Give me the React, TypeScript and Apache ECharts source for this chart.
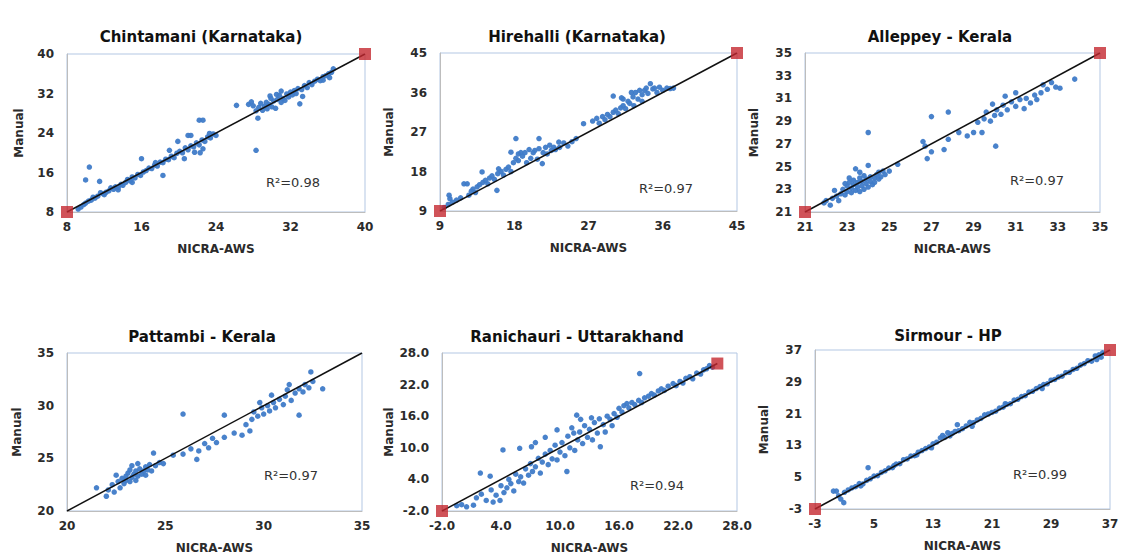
import React, { useEffect, useRef } from "react";
import * as echarts from "echarts";

// ---------- DATA ----------
const panelTitles = [
  "Chintamani (Karnataka)",
  "Hirehalli (Karnataka)",
  "Alleppey - Kerala",
  "Pattambi - Kerala",
  "Ranichauri - Uttarakhand",
  "Sirmour - HP",
];

const axisRanges: [number, number][] = [
  [8, 40],
  [9, 45],
  [21, 35],
  [20, 35],
  [-2, 28],
  [-3, 37],
];

const tickValues: number[][] = [
  [8, 16, 24, 32, 40],
  [9, 18, 27, 36, 45],
  [21, 23, 25, 27, 29, 31, 33, 35],
  [20, 25, 30, 35],
  [-2, 4, 10, 16, 22, 28],
  [-3, 5, 13, 21, 29, 37],
];

const tickDecimals = [0, 0, 0, 0, 1, 0];

const r2Labels = ["R²=0.98", "R²=0.97", "R²=0.97", "R²=0.97", "R²=0.94", "R²=0.99"];

const endMarkers: number[][][] = [
  [[8, 8], [40, 40]],
  [[9, 9], [45, 45]],
  [[21, 21], [35, 35]],
  [],
  [[-2, -2], [26, 26]],
  [[-3, -3], [37, 37]],
];

const oneToOneLines: number[][][] = [
  [[8, 8], [40, 40]],
  [[9, 9], [45, 45]],
  [[21, 21], [35, 35]],
  [[20, 20], [35, 35]],
  [[-2, -2], [26, 26]],
  [[-3, -3], [37, 37]],
];

const chintamani = [
  [9.2, 8.6], [9.5, 9.0], [9.8, 9.5], [10.0, 9.8], [10.3, 10.2], [10.6, 10.4], [10.8, 11.0], [11.0, 10.8],
  [11.3, 11.2], [11.6, 11.9], [11.9, 11.7], [12.2, 12.0], [12.5, 12.3], [12.7, 12.9], [13.0, 12.6], [13.2, 13.1],
  [13.5, 13.0], [13.8, 13.6], [14.0, 13.4], [14.3, 14.0], [14.5, 14.6], [14.8, 14.3], [15.0, 15.1], [15.3, 14.9],
  [15.6, 15.6], [15.9, 15.4], [16.2, 16.1], [16.5, 16.4], [16.8, 16.9], [17.1, 16.8], [17.4, 17.5], [17.7, 17.3],
  [18.0, 18.1], [18.3, 18.0], [18.6, 18.7], [18.9, 18.6], [19.2, 19.3], [19.5, 19.0], [19.8, 19.9], [20.1, 20.3],
  [20.4, 20.0], [20.7, 21.0], [21.0, 20.6], [21.3, 21.4], [21.6, 21.2], [21.9, 22.0], [22.2, 21.6], [22.5, 22.6],
  [22.8, 22.3], [23.1, 23.2], [23.4, 23.0], [23.7, 23.8], [24.0, 23.5],
  [10.0, 14.5], [10.4, 17.1], [11.5, 14.2], [16.0, 18.8], [18.3, 15.4], [22.2, 26.6], [22.6, 26.6], [19.9, 22.3],
  [21.0, 23.5], [21.3, 23.5], [20.6, 18.8], [21.7, 20.1], [22.6, 20.8], [23.3, 23.9], [22.3, 20.0], [19.0, 20.5],
  [17.5, 18.0], [15.0, 14.0], [13.5, 12.5], [12.0, 11.5],
  [26.2, 29.6], [27.5, 29.8], [27.8, 30.3], [28.0, 29.5], [28.3, 28.5], [28.5, 27.0], [28.3, 20.5], [28.6, 29.2],
  [28.8, 30.0], [29.0, 28.6], [29.2, 29.4], [29.4, 30.2], [29.5, 28.9], [29.7, 29.8], [29.9, 31.0], [30.0, 29.3],
  [30.2, 30.5], [30.4, 29.0], [30.6, 30.8], [30.8, 31.6], [31.0, 30.2], [31.2, 31.0], [31.4, 30.6], [31.6, 31.9],
  [31.8, 31.3], [32.0, 32.3], [32.2, 31.7], [32.4, 32.6], [32.6, 32.0], [32.8, 33.0], [33.0, 29.9], [33.3, 31.4],
  [33.2, 32.8], [33.5, 33.6], [33.8, 33.2], [34.0, 34.2], [34.3, 33.8], [34.6, 34.5], [34.9, 34.9], [35.2, 34.6],
  [35.5, 34.7], [35.5, 35.4], [35.8, 35.6], [36.1, 36.0], [36.4, 36.3], [36.6, 37.0], [36.2, 35.2], [29.8, 31.5],
  [30.5, 31.8], [31.0, 32.5],
];

const hirehalli = [
  [9.5, 9.8], [10.0, 10.5], [10.2, 11.8], [10.5, 11.0], [10.1, 12.6], [11.0, 11.5], [11.5, 12.0], [11.9, 15.2],
  [12.3, 15.2], [12.5, 12.6], [12.8, 13.5], [13.0, 14.0], [13.3, 13.2], [13.5, 14.5], [13.8, 15.0], [14.1, 17.9],
  [14.2, 15.5], [14.5, 16.0], [14.8, 15.2], [15.0, 16.5], [15.3, 17.0], [15.6, 16.2], [15.9, 13.7], [16.0, 17.5],
  [16.1, 18.6], [16.4, 18.0], [16.7, 17.2], [17.0, 18.5], [17.3, 19.0], [17.6, 22.4], [17.6, 18.0], [17.9, 20.0],
  [18.2, 25.5], [18.2, 21.0], [18.5, 22.0], [18.5, 20.5], [18.8, 22.3], [19.0, 21.5], [19.3, 22.3], [19.5, 20.0],
  [19.8, 23.0], [20.0, 21.0], [20.3, 22.3], [20.5, 22.8], [20.8, 20.8], [21.0, 25.5], [21.0, 23.2], [21.4, 19.8],
  [21.5, 22.3], [21.8, 23.5], [22.0, 22.0], [22.3, 24.0], [22.5, 22.8], [22.8, 23.5], [23.0, 23.0], [23.4, 24.7],
  [23.5, 23.5], [24.0, 24.5], [24.5, 23.8], [25.0, 24.8], [25.5, 25.5], [26.4, 28.9], [27.5, 29.5], [28.0, 30.1],
  [28.3, 29.0], [28.7, 30.5], [29.0, 29.8], [29.3, 31.0], [29.6, 30.5], [30.0, 35.2], [30.0, 31.5], [30.3, 32.0],
  [30.6, 31.2], [30.9, 32.5], [31.2, 33.0], [31.2, 34.5], [31.5, 32.3], [31.8, 34.0], [32.0, 33.5], [32.2, 36.0],
  [32.4, 35.0], [32.7, 36.0], [33.0, 34.5], [33.2, 36.5], [33.5, 35.5], [33.8, 36.5], [34.0, 37.0], [34.2, 35.8],
  [34.5, 38.0], [34.8, 36.8], [35.0, 37.0], [35.3, 36.0], [35.6, 37.2], [36.0, 36.5], [36.5, 37.0], [36.9, 36.9],
  [37.3, 37.0], [31.0, 34.8], [32.5, 33.0], [33.5, 34.0],
];

const alleppey = [
  [22.0, 22.0], [22.2, 21.6], [22.3, 22.2], [22.5, 22.4], [22.6, 22.0], [22.7, 22.6], [22.8, 23.0], [22.9, 22.5],
  [23.0, 22.8], [23.0, 23.3], [23.1, 23.6], [23.2, 22.7], [23.2, 23.1], [23.3, 23.4], [23.3, 23.8], [23.4, 22.9],
  [23.4, 24.8], [23.5, 23.2], [23.5, 23.6], [23.6, 24.0], [23.6, 22.8], [23.7, 23.3], [23.7, 23.7], [23.8, 23.0],
  [23.8, 24.2], [23.9, 23.5], [23.9, 23.9], [24.0, 23.2], [24.0, 25.1], [24.0, 28.0], [24.1, 23.7], [24.1, 24.1],
  [24.2, 23.4], [24.3, 24.0], [24.3, 23.6], [24.4, 24.3], [24.5, 23.9], [24.5, 24.5], [24.6, 24.1], [24.7, 24.6],
  [24.8, 24.3], [22.4, 22.9], [22.9, 23.5], [23.1, 24.0], [23.6, 24.5], [25.4, 25.2], [25.0, 24.6], [21.9, 21.8],
  [26.6, 27.2], [26.7, 26.8], [27.0, 26.3], [26.8, 25.7], [27.0, 29.4], [27.6, 26.5], [27.8, 27.4], [27.8, 29.8],
  [28.3, 28.0], [28.7, 27.7], [29.0, 28.0], [29.2, 28.9], [29.4, 28.0], [29.5, 29.2], [29.6, 29.8], [29.8, 29.0],
  [30.0, 29.5], [30.05, 26.8], [30.1, 30.0], [30.3, 29.6], [30.4, 30.4], [30.6, 30.0], [30.8, 30.7], [31.0, 30.3],
  [31.2, 30.9], [31.4, 30.1], [31.5, 31.0], [31.7, 30.6], [31.9, 31.3], [32.0, 30.9], [32.2, 31.5], [32.3, 32.2],
  [32.5, 31.8], [32.7, 32.4], [32.9, 32.0], [33.1, 31.9], [33.8, 32.7], [30.5, 31.2], [31.0, 31.5], [29.9, 30.5],
];

const pattambi = [
  [21.5, 22.2], [22.0, 21.4], [22.1, 22.0], [22.3, 22.5], [22.4, 21.8], [22.6, 22.8], [22.7, 22.2], [22.8, 23.1],
  [22.9, 22.6], [23.0, 23.3], [23.0, 22.9], [23.1, 23.6], [23.2, 22.8], [23.3, 23.2], [23.3, 24.3], [23.4, 23.5],
  [23.5, 22.9], [23.5, 23.8], [23.6, 23.3], [23.7, 24.0], [23.8, 23.5], [23.9, 23.8], [24.0, 24.2], [24.0, 23.4],
  [24.1, 23.9], [24.2, 24.4], [24.3, 23.8], [24.4, 25.5], [24.5, 24.3], [24.7, 24.6], [24.9, 24.5], [22.5, 23.4],
  [23.6, 24.5], [23.2, 23.9],
  [25.4, 25.3], [25.9, 25.4], [25.9, 29.2], [26.3, 25.9], [26.6, 24.9], [26.7, 25.7], [27.0, 26.4], [27.2, 26.0],
  [27.4, 26.9], [27.6, 26.5], [28.0, 29.1], [28.0, 27.0], [28.5, 27.4], [28.9, 27.2], [29.1, 28.2], [29.3, 27.6],
  [29.4, 28.7], [29.5, 29.4], [29.7, 29.0], [29.9, 29.8], [30.0, 29.2], [30.2, 30.0], [30.3, 29.5], [30.5, 30.3],
  [30.6, 29.8], [30.8, 30.6], [31.0, 30.1], [31.1, 30.9], [31.3, 32.0], [31.4, 30.5], [31.6, 31.2], [31.8, 29.1],
  [31.8, 31.6], [32.0, 31.3], [32.1, 32.0], [32.3, 31.7], [32.4, 33.2], [32.5, 32.3], [33.0, 31.6], [30.4, 31.0],
  [29.8, 30.3], [31.2, 31.5],
];

const ranichauri = [
  [-0.5, -1.0], [0.0, -0.8], [0.5, -1.2], [1.2, -0.9], [1.5, 0.5], [1.9, 5.2], [2.0, 1.2], [2.5, 0.0],
  [2.9, 4.6], [3.0, 2.0], [3.2, -0.3], [3.5, 1.0], [3.9, 0.0], [4.0, 2.8], [4.2, 9.6], [4.3, 1.5],
  [4.6, 2.4], [4.8, 4.0], [5.0, 3.2], [5.3, 1.8], [5.5, 5.0], [5.8, 3.6], [5.9, 9.9], [6.0, 4.5],
  [6.3, 3.3], [6.5, 6.0], [6.8, 4.8], [7.0, 7.0], [7.1, 10.2], [7.2, 5.5], [7.5, 11.0], [7.5, 6.4],
  [7.8, 8.0], [8.0, 5.2], [8.2, 7.3], [8.5, 12.0], [8.5, 8.8], [8.8, 6.8], [9.0, 9.5], [9.2, 7.9],
  [9.5, 10.5], [9.7, 13.4], [9.7, 7.7], [10.0, 9.2], [10.2, 11.0], [10.5, 8.5], [10.7, 5.5], [10.8, 12.2],
  [11.0, 10.0], [11.2, 13.8], [11.4, 12.8], [11.5, 9.5], [11.7, 16.2], [11.8, 11.5], [12.0, 13.0], [12.1, 15.4],
  [12.3, 10.8], [12.5, 14.2], [12.8, 12.0], [13.0, 13.5], [13.2, 15.7], [13.3, 11.5], [13.5, 14.8], [13.8, 12.8],
  [14.0, 15.5], [14.1, 10.2], [14.4, 14.4], [14.6, 13.0], [14.8, 16.0], [15.1, 15.4], [15.3, 14.2], [15.5, 16.5],
  [15.8, 15.8], [16.0, 17.5], [16.3, 16.8], [16.5, 18.0], [16.8, 18.4], [17.0, 17.6], [17.3, 18.6], [17.6, 18.2],
  [18.0, 19.0], [18.1, 24.1], [18.3, 18.6], [18.6, 19.5], [19.0, 19.8], [19.3, 20.3], [19.6, 20.0], [20.0, 20.8],
  [20.3, 21.2], [20.6, 20.9], [21.0, 21.7], [21.5, 22.2], [21.8, 21.8], [22.2, 22.6], [22.5, 22.3], [22.8, 23.2],
  [23.2, 23.5], [23.5, 23.1], [23.9, 24.2], [24.3, 24.0], [24.6, 24.8], [24.9, 25.0], [25.2, 25.6], [25.5, 25.3],
];

const sirmour = [
  [-0.5, 1.5], [-0.1, 1.5], [0.2, 0.3], [0.5, -0.5], [0.9, -1.4], [1.0, 1.2], [1.5, 1.8], [2.0, 2.3],
  [2.5, 2.6], [3.0, 3.4], [3.5, 3.3], [4.0, 4.2], [4.2, 7.4], [4.5, 4.6], [5.0, 5.3], [5.5, 5.4],
  [6.0, 6.2], [6.5, 6.6], [7.0, 7.3], [7.5, 7.4], [8.0, 8.3], [8.5, 8.4], [9.0, 9.4], [9.5, 9.6],
  [10.0, 10.3], [10.5, 10.4], [11.0, 11.3], [11.5, 11.7], [12.0, 12.2], [12.5, 12.6], [13.0, 13.4], [13.5, 13.8],
  [14.0, 14.9], [14.3, 15.5], [14.6, 15.0], [15.0, 16.2], [15.3, 15.4], [15.6, 16.0], [16.0, 16.5], [16.3, 18.2],
  [16.5, 16.7], [17.0, 17.2], [17.5, 17.9], [18.0, 18.8], [18.5, 18.7], [19.0, 19.4], [19.5, 19.8], [20.0, 20.7],
  [20.5, 20.9], [21.0, 21.3], [21.5, 21.6], [22.0, 22.4], [22.5, 22.6], [23.0, 23.3], [23.5, 23.5], [24.0, 24.4],
  [24.5, 24.6], [25.0, 25.3], [25.5, 25.5], [26.0, 26.4], [26.5, 26.6], [27.0, 27.3], [27.5, 27.8], [28.0, 28.3],
  [28.5, 28.5], [29.0, 29.4], [29.5, 29.6], [30.0, 30.2], [30.5, 30.4], [31.0, 31.3], [31.5, 31.4], [32.0, 32.1],
  [32.5, 32.4], [33.0, 33.2], [33.5, 33.6], [34.0, 34.3], [34.5, 34.2], [35.0, 35.5], [35.2, 34.6], [35.5, 35.8],
  [35.8, 35.2], [36.0, 36.3], [12.8, 12.4], [18.3, 17.8], [22.8, 23.5], [27.8, 27.3], [10.8, 10.6], [7.7, 7.9],
  [3.2, 2.8],
];

const panelData = [chintamani, hirehalli, alleppey, pattambi, ranichauri, sirmour];

// ---------- LAYOUT ----------
const grids = [
  { left: 67, top: 54, width: 298, height: 158 },
  { left: 440, top: 53, width: 297, height: 158 },
  { left: 805, top: 53, width: 295, height: 159 },
  { left: 67, top: 353, width: 295, height: 158 },
  { left: 442, top: 353, width: 295, height: 158 },
  { left: 815, top: 350, width: 295, height: 159 },
];
const titlePos = [
  { x: 196, y: 24 },
  { x: 572, y: 24 },
  { x: 935, y: 24 },
  { x: 197, y: 324 },
  { x: 572, y: 324 },
  { x: 943, y: 323 },
];
const r2Pos = [
  { x: 293, y: 182 },
  { x: 666, y: 188 },
  { x: 1037, y: 180 },
  { x: 291, y: 475 },
  { x: 657, y: 485 },
  { x: 1040, y: 474 },
];
const yNameGap = [42, 45, 45, 44, 47, 45];

const FONT = "'DejaVu Sans', Verdana, sans-serif";

export default function App() {
  const ref = useRef<HTMLDivElement>(null);
  useEffect(() => {
    if (!ref.current) return;
    const chart = echarts.init(ref.current, null, { renderer: "svg" });
    const xAxes: any[] = [];
    const yAxes: any[] = [];
    const series: any[] = [];
    const titles: any[] = [];
    const graphics: any[] = [];
    grids.forEach((g, i) => {
      const [mn, mx] = axisRanges[i];
      const dec = tickDecimals[i];
      const labelCommon = {
        customValues: tickValues[i],
        formatter: (v: number) => v.toFixed(dec),
        fontWeight: "bold",
        fontSize: 12,
        color: "#2b2b2b",
        fontFamily: FONT,
      };
      const nameStyle = { fontWeight: "bold", fontSize: 12, color: "#2b2b2b", fontFamily: FONT };
      xAxes.push({
        gridIndex: i,
        type: "value",
        min: mn,
        max: mx,
        name: "NICRA-AWS",
        nameLocation: "middle",
        nameGap: 31,
        nameTextStyle: nameStyle,
        axisLine: { show: true, onZero: false, lineStyle: { color: "#bdbdbd", width: 1 } },
        axisTick: { show: false },
        splitLine: { show: false },
        axisLabel: { ...labelCommon, margin: 9 },
      });
      yAxes.push({
        gridIndex: i,
        type: "value",
        min: mn,
        max: mx,
        name: "Manual",
        nameLocation: "middle",
        nameGap: yNameGap[i],
        nameTextStyle: nameStyle,
        axisLine: { show: true, onZero: false, lineStyle: { color: "#bdbdbd", width: 1 } },
        axisTick: { show: false },
        splitLine: { show: false },
        axisLabel: { ...labelCommon, margin: 13 },
      });
      series.push({
        type: "scatter",
        xAxisIndex: i,
        yAxisIndex: i,
        data: panelData[i],
        symbol: "circle",
        symbolSize: 5.5,
        itemStyle: { color: "#3f7bc8", opacity: 0.95 },
        z: 2,
        silent: true,
      });
      series.push({
        type: "line",
        xAxisIndex: i,
        yAxisIndex: i,
        data: oneToOneLines[i],
        showSymbol: false,
        lineStyle: { color: "#111", width: 1.5 },
        z: 3,
        silent: true,
      });
      if (endMarkers[i].length) {
        series.push({
          type: "scatter",
          xAxisIndex: i,
          yAxisIndex: i,
          data: endMarkers[i],
          symbol: "rect",
          symbolSize: 12,
          itemStyle: { color: "#c4282f" },
          z: 4,
          silent: true,
        });
      }
      titles.push({
        text: panelTitles[i],
        left: titlePos[i].x,
        top: titlePos[i].y,
        textAlign: "center",
        textStyle: { fontSize: 15, fontWeight: "bold", color: "#111", fontFamily: FONT },
      });
      graphics.push({
        type: "text",
        x: r2Pos[i].x,
        y: r2Pos[i].y,
        z: 10,
        style: {
          text: r2Labels[i],
          font: `13px ${FONT}`,
          fill: "#333",
          align: "center",
          verticalAlign: "middle",
        },
      });
    });
    chart.setOption({
      animation: false,
      backgroundColor: "#ffffff",
      title: titles,
      grid: grids.map((g) => ({
        ...g,
        show: true,
        borderColor: "#b3c7e3",
        borderWidth: 1,
        containLabel: false,
      })),
      xAxis: xAxes,
      yAxis: yAxes,
      series,
      graphic: graphics,
    });
    return () => chart.dispose();
  }, []);
  return (
    <div
      ref={ref}
      style={{ position: "fixed", left: 0, top: 0, width: 1125, height: 558, background: "#fff" }}
    />
  );
}
